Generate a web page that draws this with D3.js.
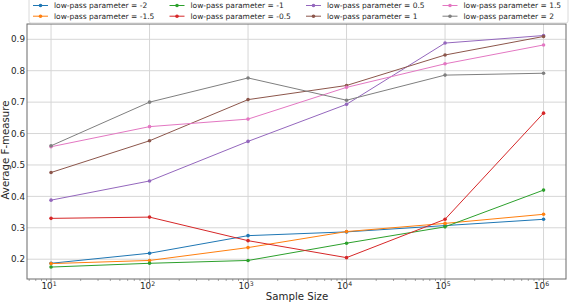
<!DOCTYPE html>
<html><head><meta charset="utf-8">
<script src="https://cdn.jsdelivr.net/npm/d3@7"></script>
<style>body{margin:0;background:#fff}svg{display:block;font-family:"DejaVu Sans",sans-serif}</style>
</head><body><svg id="c" width="586" height="303"></svg>
<script>
const sampleSizes = [1e1, 1e2, 1e3, 1e4, 1e5, 1e6];
const seriesLabels = ["-2", "-1.5", "-1", "-0.5", "0.5", "1", "1.5", "2"];
const seriesColors = ["#1f77b4", "#ff7f0e", "#2ca02c", "#d62728", "#9467bd", "#8c564b", "#e377c2", "#7f7f7f"];
const valsM2   = [0.187, 0.219, 0.275, 0.287, 0.307, 0.327];
const valsM15  = [0.186, 0.196, 0.237, 0.288, 0.314, 0.343];
const valsM1   = [0.175, 0.187, 0.196, 0.251, 0.303, 0.420];
const valsM05  = [0.330, 0.334, 0.259, 0.205, 0.327, 0.665];
const valsP05  = [0.388, 0.449, 0.575, 0.693, 0.888, 0.912];
const valsP1   = [0.476, 0.577, 0.708, 0.753, 0.850, 0.909];
const valsP15  = [0.558, 0.622, 0.646, 0.747, 0.822, 0.882];
const valsP2   = [0.561, 0.700, 0.777, 0.706, 0.786, 0.792];
const allSeries = [valsM2, valsM15, valsM1, valsM05, valsP05, valsP1, valsP15, valsP2];
const yTicks = [0.2, 0.3, 0.4, 0.5, 0.6, 0.7, 0.8, 0.9];
const xTickExps = [1, 2, 3, 4, 5, 6];

const svg = d3.select("#c");
const L = 27, R = 566, T = 24, B = 279;
const x = d3.scaleLog().domain([Math.pow(10, 0.756), Math.pow(10, 6.228)]).range([L, R]);
const y = d3.scaleLinear().domain([0.137, 0.9487]).range([B, T]);
const axisCol = "#6b6b6b", gridCol = "#d6d6d6";

// grid
svg.append("g").selectAll("line").data(yTicks).join("line")
  .attr("x1", L).attr("x2", R).attr("y1", d => y(d)).attr("y2", d => y(d))
  .attr("stroke", gridCol).attr("stroke-width", 1);
svg.append("g").selectAll("line").data(sampleSizes).join("line")
  .attr("y1", T).attr("y2", B).attr("x1", d => x(d)).attr("x2", d => x(d))
  .attr("stroke", gridCol).attr("stroke-width", 1);

// x axis with log ticks
const minor = [];
for (let e = 0; e <= 6; e++) for (let m = 2; m <= 9; m++) { const v = m * Math.pow(10, e); if (x(v) > L && x(v) < R) minor.push(v); }
const xAxis = svg.append("g").attr("transform", `translate(0,${B})`);
xAxis.selectAll("line.mn").data(minor).join("line").attr("class", "mn")
  .attr("x1", d => x(d)).attr("x2", d => x(d)).attr("y1", 0).attr("y2", 2)
  .attr("stroke", axisCol).attr("stroke-width", 0.6);
xAxis.selectAll("line.mj").data(sampleSizes).join("line").attr("class", "mj")
  .attr("x1", d => x(d)).attr("x2", d => x(d)).attr("y1", 0).attr("y2", 3.5)
  .attr("stroke", axisCol).attr("stroke-width", 0.8);
const xl = xAxis.selectAll("text").data(xTickExps).join("text")
  .attr("x", d => x(Math.pow(10, d)) - 2).attr("y", 10).attr("text-anchor", "middle")
  .attr("font-size", 8.8).attr("fill", "#262626");
xl.append("tspan").text("10");
xl.append("tspan").attr("dy", -3.5).attr("font-size", 6.2).text(d => d);

// y labels
svg.append("g").selectAll("text").data(yTicks).join("text")
  .attr("x", 25).attr("y", d => y(d) + 3.2).attr("text-anchor", "end")
  .attr("font-size", 8.8).attr("fill", "#262626").text(d => d.toFixed(1));

// spines
svg.append("rect").attr("x", L).attr("y", T).attr("width", R - L).attr("height", B - T)
  .attr("fill", "none").attr("stroke", axisCol).attr("stroke-width", 1);

// lines
const line = d3.line().x((d, i) => x(sampleSizes[i])).y(d => y(d));
allSeries.forEach((vals, k) => {
  const g = svg.append("g");
  g.append("path").attr("d", line(vals)).attr("fill", "none")
    .attr("stroke", seriesColors[k]).attr("stroke-width", 1);
  g.selectAll("circle").data(vals).join("circle")
    .attr("cx", (d, i) => x(sampleSizes[i])).attr("cy", d => y(d)).attr("r", 1.8)
    .attr("fill", seriesColors[k]);
});

// axis titles
svg.append("text").attr("x", 297).attr("y", 300).attr("text-anchor", "middle")
  .attr("font-size", 10.2).attr("fill", "#262626").text("Sample Size");
svg.append("text").attr("transform", "translate(9,150) rotate(-90)").attr("text-anchor", "middle")
  .attr("font-size", 10.2).attr("fill", "#262626").text("Average F-measure");

// legend
const lg = svg.append("g");
lg.append("rect").attr("x", 29).attr("y", -6).attr("width", 539).attr("height", 29).attr("rx", 2)
  .attr("fill", "#fff").attr("fill-opacity", 0.85).attr("stroke", "#d0d0d0").attr("stroke-width", 0.8);
seriesLabels.forEach((lab, k) => {
  const col = Math.floor(k / 2), row = k % 2;
  const x0 = 33 + col * 136.5, yy = 5.5 + row * 10.7;
  lg.append("line").attr("x1", x0).attr("x2", x0 + 15).attr("y1", yy).attr("y2", yy)
    .attr("stroke", seriesColors[k]).attr("stroke-width", 1);
  lg.append("circle").attr("cx", x0 + 7.5).attr("cy", yy).attr("r", 1.8).attr("fill", seriesColors[k]);
  lg.append("text").attr("x", x0 + 21).attr("y", yy + 2.7).attr("font-size", 7.5)
    .attr("fill", "#262626").text("low-pass parameter = " + lab);
});
</script></body></html>
